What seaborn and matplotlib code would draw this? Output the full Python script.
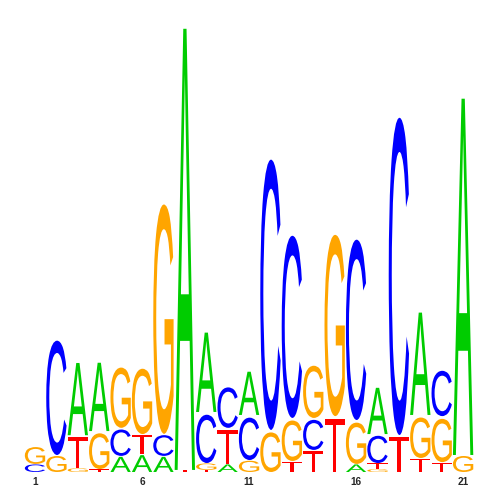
import numpy as np
import pandas as pd
import seaborn as sns
import matplotlib
matplotlib.use("Agg")
import matplotlib.pyplot as plt
from matplotlib.textpath import TextPath
from matplotlib.patches import PathPatch
from matplotlib.font_manager import FontProperties
from matplotlib.transforms import Affine2D

# Information content (bits) of each base per motif position
positions = list(range(1, 22))
A = [0, 0, .326, .309, .070, .078, .070, 1.930, .357, .035, .200, 0, 0, 0, 0, .035, .213, 0, .457, 0, 1.561]
C = [.035, .509, 0, 0, .122, 0, .096, 0, .222, .187, .196, 1.187, .804, .139, 0, .796, .126, 1.391, 0, .209, 0]
G = [.078, .074, .017, .165, .274, .296, 1.009, 0, .030, 0, .052, .183, .187, .239, .800, .191, .013, 0, .187, .200, .074]
T = [0, 0, .143, .013, 0, .087, 0, .009, .009, .157, 0, 0, .048, .096, .243, 0, .026, .161, .061, .043, 0]
tick_positions = [1, 6, 11, 16, 21]
tick_labels = ["1", "6", "11", "16", "21"]

colors = {"A": "#00CC00", "C": "#0000FF", "G": "#FFA500", "T": "#FF0000"}

df = pd.DataFrame({"A": A, "C": C, "G": G, "T": T}, index=positions)

sns.set_theme(style="white")
fig = plt.figure(figsize=(5, 5), dpi=100)
ax = fig.add_axes([0.0486, 0.056, 0.899, 0.944])

fp = FontProperties(family="Liberation Sans", weight="normal")
glyphs = {}
for L in "ACGT":
    p = TextPath((0, 0), L, size=1, prop=fp)
    glyphs[L] = (p, p.get_extents())

width = 0.95
gap_frac = 0.06
for pos, row in df.iterrows():
    items = sorted([(v, k) for k, v in row.items() if v > 0])
    y0 = 0.0
    for h, L in items:
        p, bb = glyphs[L]
        pad = min(0.012, h * gap_frac)
        hh = h - pad
        tr = (Affine2D()
              .translate(-bb.x0, -bb.y0)
              .scale(width / bb.width, hh / bb.height)
              .translate(pos - width / 2, y0))
        patch = PathPatch(tr.transform_path(p), facecolor=colors[L], edgecolor="none", lw=0)
        ax.add_patch(patch)
        y0 += h

ax.set_xlim(0.5, 21.5)
ax.set_ylim(0, 472 / 230)
ax.set_xticks(tick_positions)
ax.set_xticklabels(tick_labels, fontsize=7.2, fontweight="bold", family="Liberation Sans")
ax.tick_params(axis="x", length=0, pad=3.5)
ax.set_yticks([])
for s in ax.spines.values():
    s.set_visible(False)
ax.patch.set_alpha(0)

fig.savefig("out.png", dpi=100)
